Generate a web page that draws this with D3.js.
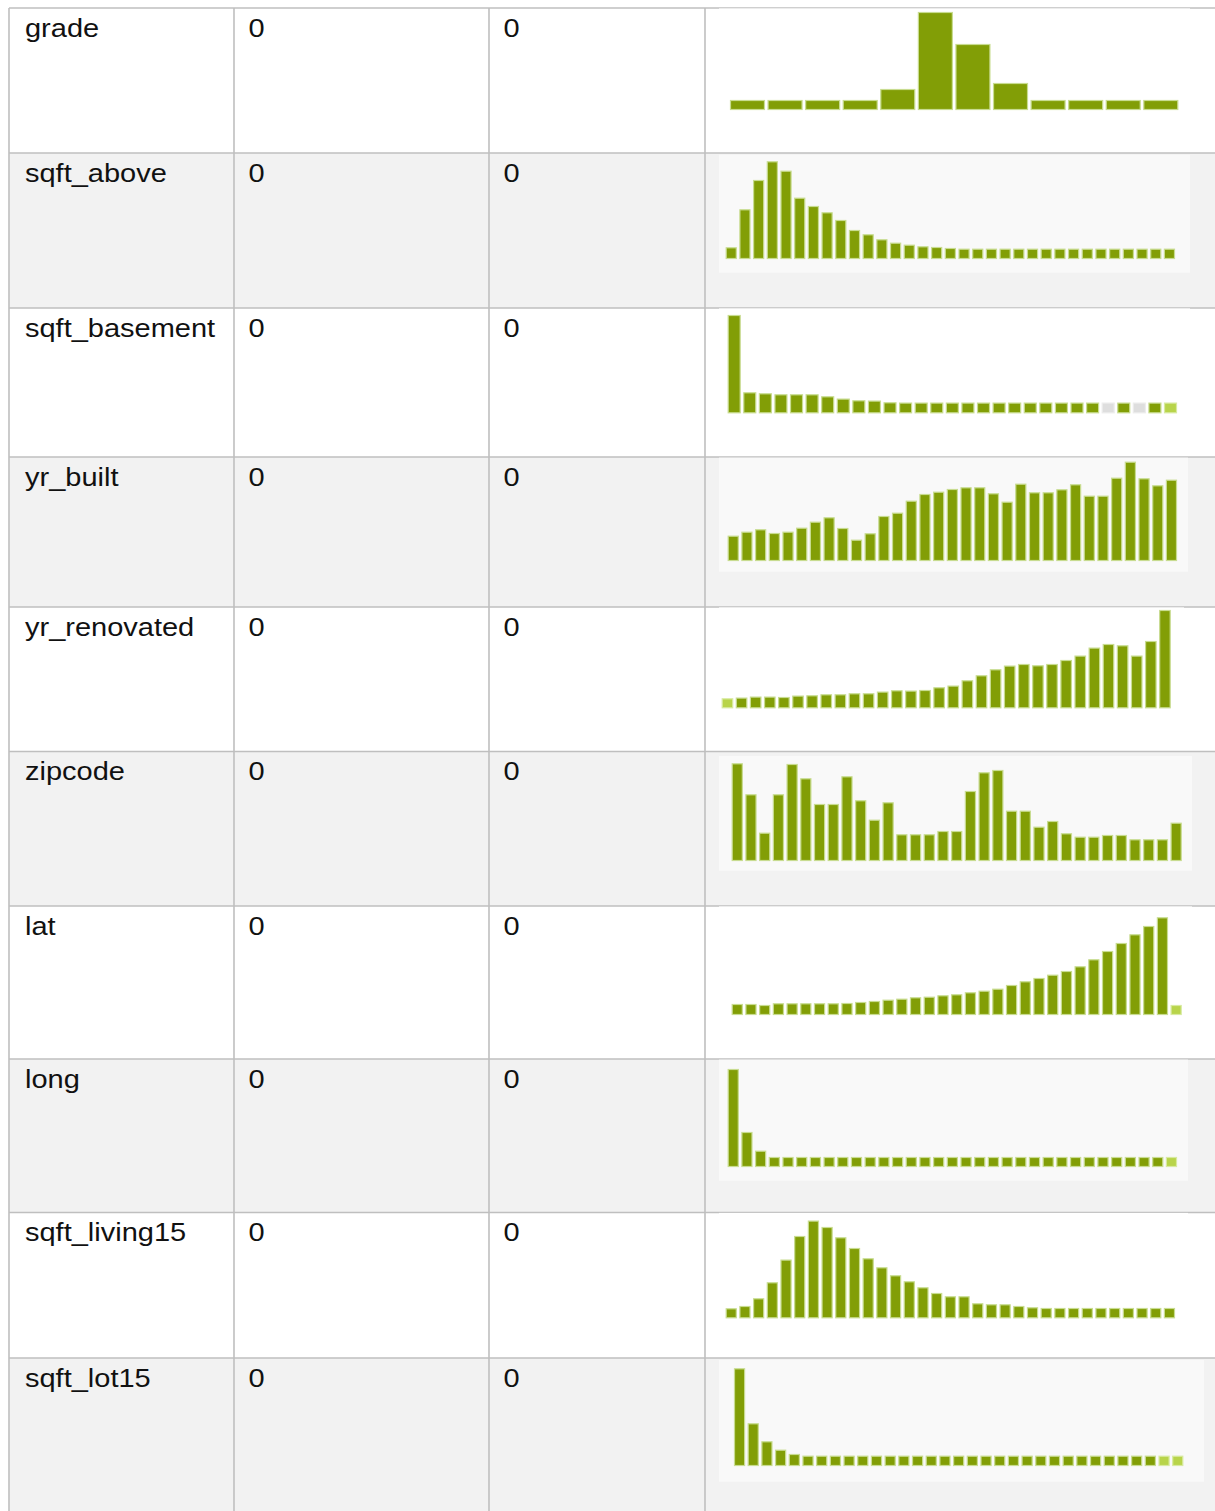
<!DOCTYPE html>
<html>
<head>
<meta charset="utf-8">
<script src="https://cdn.jsdelivr.net/npm/d3@7/dist/d3.min.js"></script>
<style>
  html, body { margin: 0; padding: 0; background: #ffffff; }
  svg { display: block; }
</style>
</head>
<body>
<svg id="chart" width="1215" height="1511"></svg>
<script>
// ---------------- DATA ----------------
const variables = ["grade", "sqft_above", "sqft_basement", "yr_built", "yr_renovated",
                   "zipcode", "lat", "long", "sqft_living15", "sqft_lot15"];
const col2Values = ["0", "0", "0", "0", "0", "0", "0", "0", "0", "0"];
const col3Values = ["0", "0", "0", "0", "0", "0", "0", "0", "0", "0"];

// histogram bar heights (percent of the sparkline height)
const gradeHist = [10, 10, 10, 10, 21, 98, 66, 27, 10, 10, 10, 10];
const sqftAboveHist = [11.7, 49.7, 79, 97.7, 88.3, 61.3, 53, 46.7, 39, 29, 24.7, 19.7, 16.3, 14.3, 12.7, 12, 11,
  10.3, 10.3, 10.3, 10.3, 10.3, 10.3, 10.3, 10.3, 10.3, 10.3, 10.3, 10.3, 10.3, 10.3, 10.3, 10.3];
const sqftBasementHist = [98.3, 21, 20, 19, 19, 19, 17, 14.7, 13, 12.7, 11,
  10.7, 10.7, 10.7, 10.7, 10.7, 10.7, 10.7, 10.7, 10.7, 10.7, 10.7, 10.7, 10.7, 10.7, 10.7, 10.7, 10.7, 10.7];
const yrBuiltHist = [25.3, 29.3, 31.7, 28, 29.3, 33.3, 39.3, 43.7, 33, 21.3, 27.7, 45, 48.3, 60.3, 67, 69.3, 72,
  73.7, 73.7, 67.7, 59.3, 77.3, 68.7, 68.7, 71.7, 76.7, 65.3, 65.3, 83.3, 99.3, 82.7, 75.7, 81.3];
const yrRenovatedHist = [10, 10.7, 11.7, 11.7, 11.3, 12.7, 13, 14, 14, 15, 15, 16.7, 18, 17.7, 18.3, 21, 22.7,
  28, 33, 39, 42.7, 44.3, 43, 44.3, 48.3, 52.7, 60.7, 64.3, 63, 52.7, 67.3, 98.3];
const zipcodeHist = [97.7, 66.7, 28.3, 66.7, 97, 82.7, 57, 57, 84.7, 60.7, 41.3, 58.7, 26.7, 26.7, 26.7, 30, 30,
  70, 88.7, 91, 50.3, 50.3, 34.3, 40, 27.7, 24.3, 24.3, 26, 26, 21.7, 21.7, 21.7, 38.3];
const latHist = [11, 11, 10, 11.7, 11.7, 11.7, 11.7, 11.7, 12, 13, 14, 15.3, 16.3, 17.7, 18.3, 19.7, 20.7,
  22.7, 24.3, 26.3, 30, 33.7, 37, 40.3, 44, 48.7, 55.7, 64, 72, 80.7, 89, 97.7, 10];
const longHist = [98, 35, 16.3, 10, 10, 10, 10, 10, 10, 10, 10, 10, 10, 10, 10, 10, 10,
  10, 10, 10, 10, 10, 10, 10, 10, 10, 10, 10, 10, 10, 10, 10, 10];
const sqftLiving15Hist = [10, 12.3, 20, 36, 58.7, 82.3, 97.7, 91.3, 81, 70.3, 60, 51, 43, 37, 31, 25.3, 22,
  22, 15, 14, 14, 12.3, 11, 10.3, 10.3, 10.3, 10.3, 10.3, 10.3, 10.3, 10.3, 10.3, 10.3];
const sqftLot15Hist = [97.7, 42.7, 24.7, 16.3, 12, 10.3, 10.3, 10.3, 10.3, 10.3, 10.3, 10.3, 10.3, 10.3, 10.3, 10.3, 10.3,
  10.3, 10.3, 10.3, 10.3, 10.3, 10.3, 10.3, 10.3, 10.3, 10.3, 10.3, 10.3, 10.3, 10.3, 10.3, 10.3];

// bins drawn in a different shade: "light" = partial bin, "empty" = grey placeholder
const specialBins = {
  sqft_basement: {24: "empty", 26: "empty", 28: "light"},
  yr_renovated: {0: "light"},
  lat: {32: "light"},
  long: {32: "light"},
  sqft_lot15: {31: "light", 32: "light"}
};

const histograms = [gradeHist, sqftAboveHist, sqftBasementHist, yrBuiltHist, yrRenovatedHist,
                    zipcodeHist, latHist, longHist, sqftLiving15Hist, sqftLot15Hist];

// ---------------- LAYOUT ----------------
const rowTops = [8, 153, 308, 457, 607, 751.5, 906, 1059, 1212.5, 1358, 1530];
const colXs = [9, 234, 489, 705, 1240];
// sparkline image boxes [x0, y0, x1, y1]
const frames = [
  [719, 8.4, 1190, 126],
  [719, 154.7, 1190, 272.7],
  [719, 308.4, 1190, 426],
  [719, 457.6, 1188, 571.7],
  [719, 607.4, 1184, 725],
  [719, 756, 1192, 870.7],
  [719, 906.4, 1192, 1024],
  [719, 1059.6, 1188, 1180.7],
  [719, 1212.9, 1188, 1330],
  [719, 1360, 1204, 1481.7]
];
// bar span [x0, x1, baseline]
const barSpans = [
  [730, 1178.3, 110],
  [725.7, 1175, 259],
  [727.7, 1177, 413.3],
  [727.7, 1177, 561],
  [721.7, 1170.7, 708.3],
  [731.7, 1181.7, 861],
  [731.7, 1181.7, 1015],
  [727.7, 1177, 1167],
  [725.7, 1175, 1318.3],
  [734, 1183.3, 1466]
];

const svg = d3.select("#chart");
const borderColor = "#bfbfbf";
const rowFill = i => (i % 2 === 1 ? "#f2f2f2" : "#ffffff");
const frameFill = i => (i % 2 === 1 ? "#f9f9f9" : "#ffffff");

// row backgrounds
svg.append("g").selectAll("rect").data(variables).join("rect")
  .attr("x", colXs[0]).attr("y", (d, i) => rowTops[i])
  .attr("width", colXs[colXs.length - 1] - colXs[0])
  .attr("height", (d, i) => rowTops[i + 1] - rowTops[i])
  .attr("fill", (d, i) => rowFill(i));

// grid lines
const grid = svg.append("g").attr("stroke", borderColor).attr("stroke-width", 1.6);
grid.selectAll("line.h").data(rowTops.slice(0, -1)).join("line")
  .attr("class", "h")
  .attr("x1", colXs[0]).attr("x2", 1240).attr("y1", d => d).attr("y2", d => d);
grid.selectAll("line.v").data(colXs.slice(0, -1)).join("line")
  .attr("class", "v")
  .attr("x1", d => d).attr("x2", d => d).attr("y1", rowTops[0]).attr("y2", 1530);

// sparkline frames
svg.append("g").selectAll("rect").data(frames).join("rect")
  .attr("x", d => d[0]).attr("y", d => d[1])
  .attr("width", d => d[2] - d[0]).attr("height", d => d[3] - d[1])
  .attr("fill", (d, i) => frameFill(i));

// bars
const yScale = d3.scaleLinear().domain([0, 100]).range([0, 100]);
const gap = 2.6;
const fills = {normal: "#829e06", light: "#b8d44a", empty: "#dedede"};
const halos = {normal: "#c8dc90", light: "#d8eaa0", empty: "#ececec"};

histograms.forEach((vals, r) => {
  const [x0, x1, base] = barSpans[r];
  const xScale = d3.scaleBand().domain(d3.range(vals.length)).range([x0, x1 + gap]).paddingInner(0);
  const bw = xScale.bandwidth() - gap;
  const spec = specialBins[variables[r]] || {};
  svg.append("g").attr("class", "spark-" + variables[r])
    .selectAll("rect").data(vals).join("rect")
    .attr("x", (d, i) => xScale(i) + 0.5)
    .attr("y", d => base - yScale(d) + 0.5)
    .attr("width", bw - 1)
    .attr("height", d => yScale(d) - 1)
    .attr("fill", (d, i) => fills[spec[i] || "normal"])
    .attr("stroke", (d, i) => halos[spec[i] || "normal"])
    .attr("stroke-width", 1.2);
});

// texts
const textScale = 1.16;
const fontSize = 25;
const texts = svg.append("g")
  .attr("font-family", "'Liberation Sans', Arial, Helvetica, sans-serif")
  .attr("font-size", fontSize).attr("fill", "#111111");

function addColumn(values, colIdx, padding) {
  texts.append("g").selectAll("text").data(values).join("text")
    .attr("transform", (d, i) => `translate(${colXs[colIdx] + padding},${rowTops[i] + 28.5}) scale(${textScale},1)`)
    .text(d => d);
}
addColumn(variables, 0, 16);
addColumn(col2Values, 1, 14.5);
addColumn(col3Values, 2, 14.5);
</script>
</body>
</html>
